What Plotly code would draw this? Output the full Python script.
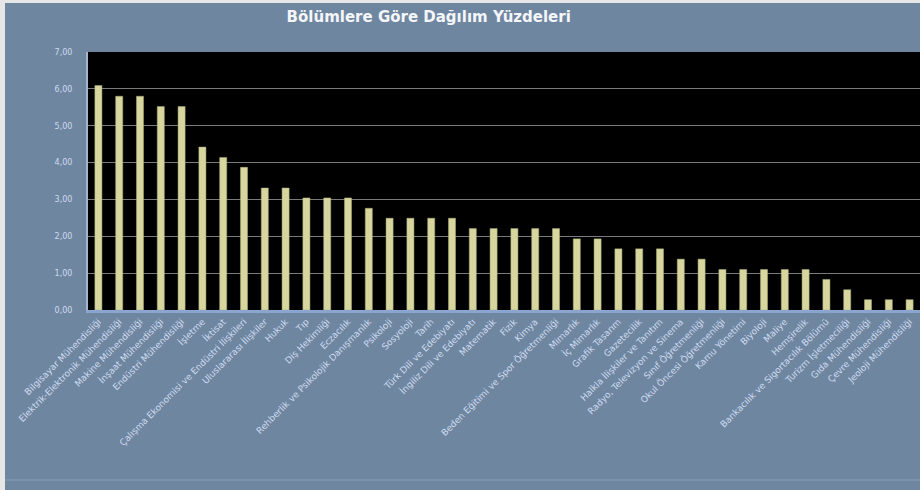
import plotly.graph_objects as go

title_text = "Bölümlere Göre Dağılım Yüzdeleri"

departments = [
    "Bilgisayar Mühendisliği",
    "Elektrik-Elektronik Mühendisliği",
    "Makine Mühendisliği",
    "İnşaat Mühendisliği",
    "Endüstri Mühendisliği",
    "İşletme",
    "İktisat",
    "Çalışma Ekonomisi ve Endüstri İlişkileri",
    "Uluslararası İlişkiler",
    "Hukuk",
    "Tıp",
    "Diş Hekimliği",
    "Eczacılık",
    "Rehberlik ve Psikolojik Danışmanlık",
    "Psikoloji",
    "Sosyoloji",
    "Tarih",
    "Türk Dili ve Edebiyatı",
    "İngiliz Dili ve Edebiyatı",
    "Matematik",
    "Fizik",
    "Kimya",
    "Beden Eğitimi ve Spor Öğretmenliği",
    "Mimarlık",
    "İç Mimarlık",
    "Grafik Tasarım",
    "Gazetecilik",
    "Halkla İlişkiler ve Tanıtım",
    "Radyo, Televizyon ve Sinema",
    "Sınıf Öğretmenliği",
    "Okul Öncesi Öğretmenliği",
    "Kamu Yönetimi",
    "Biyoloji",
    "Maliye",
    "Hemşirelik",
    "Bankacılık ve Sigortacılık Bölümü",
    "Turizm İşletmeciliği",
    "Gıda Mühendisliği",
    "Çevre Mühendisliği",
    "Jeoloji Mühendisliği",
]

percentages = [
    6.09, 5.80, 5.80, 5.52, 5.52, 4.42, 4.14, 3.87, 3.31, 3.31,
    3.04, 3.04, 3.04, 2.76, 2.49, 2.49, 2.49, 2.49, 2.21, 2.21,
    2.21, 2.21, 2.21, 1.93, 1.93, 1.66, 1.66, 1.66, 1.38, 1.38,
    1.10, 1.10, 1.10, 1.10, 1.10, 0.83, 0.55, 0.28, 0.28, 0.28,
]

y_tick_values = [0, 1, 2, 3, 4, 5, 6, 7]
y_tick_labels = ["0,00", "1,00", "2,00", "3,00", "4,00", "5,00", "6,00", "7,00"]

BG = "#6f86a1"
BAR = "#d6d69e"
LABEL = "#cddbf0"

fig = go.Figure(
    go.Bar(
        x=departments,
        y=percentages,
        marker=dict(color=BAR, line=dict(color="#a8a878", width=0.5)),
        hoverinfo="x+y",
    )
)

fig.update_layout(
    width=920,
    height=490,
    paper_bgcolor=BG,
    plot_bgcolor="#000000",
    margin=dict(l=88, r=0, t=52, b=180),
    bargap=0.66,
    showlegend=False,
    title=dict(
        text="<b>" + title_text + "</b>",
        x=0.466,
        xanchor="center",
        y=0.965,
        yanchor="middle",
        font=dict(family="DejaVu Sans", size=15, color="#f4f6fa"),
    ),
    font=dict(family="DejaVu Sans", size=9, color=LABEL),
)

fig.update_xaxes(
    type="category",
    tickangle=-45,
    tickfont=dict(size=9, color=LABEL),
    showgrid=False,
    showline=True,
    linecolor="#8aa6cf",
    linewidth=3,
    ticks="",
)

fig.update_yaxes(
    range=[0, 7],
    tickvals=y_tick_values,
    ticktext=y_tick_labels,
    tickfont=dict(size=8, color=LABEL),
    showgrid=True,
    gridcolor="#7a7a7a",
    gridwidth=1,
    zeroline=False,
    showline=True,
    linecolor="#a4b6cc",
    linewidth=2,
    ticks="",
    ticklabelstandoff=12,
)

# frame decoration like the original screenshot border
fig.add_shape(type="rect", xref="paper", yref="paper", x0=-88/832, x1=-83/832,
              y0=-180/258, y1=1 + 52/258, fillcolor="#e6e6e6", line_width=0, layer="above")
fig.add_shape(type="rect", xref="paper", yref="paper", x0=-88/832, x1=1,
              y0=1 + 49/258, y1=1 + 52/258, fillcolor="#e6e6e6", line_width=0, layer="above")
fig.add_shape(type="line", xref="paper", yref="paper", x0=-83/832, x1=1,
              y0=-170/258, y1=-170/258, line=dict(color="#8a9db5", width=1), layer="above")

fig.write_html("out.html")
